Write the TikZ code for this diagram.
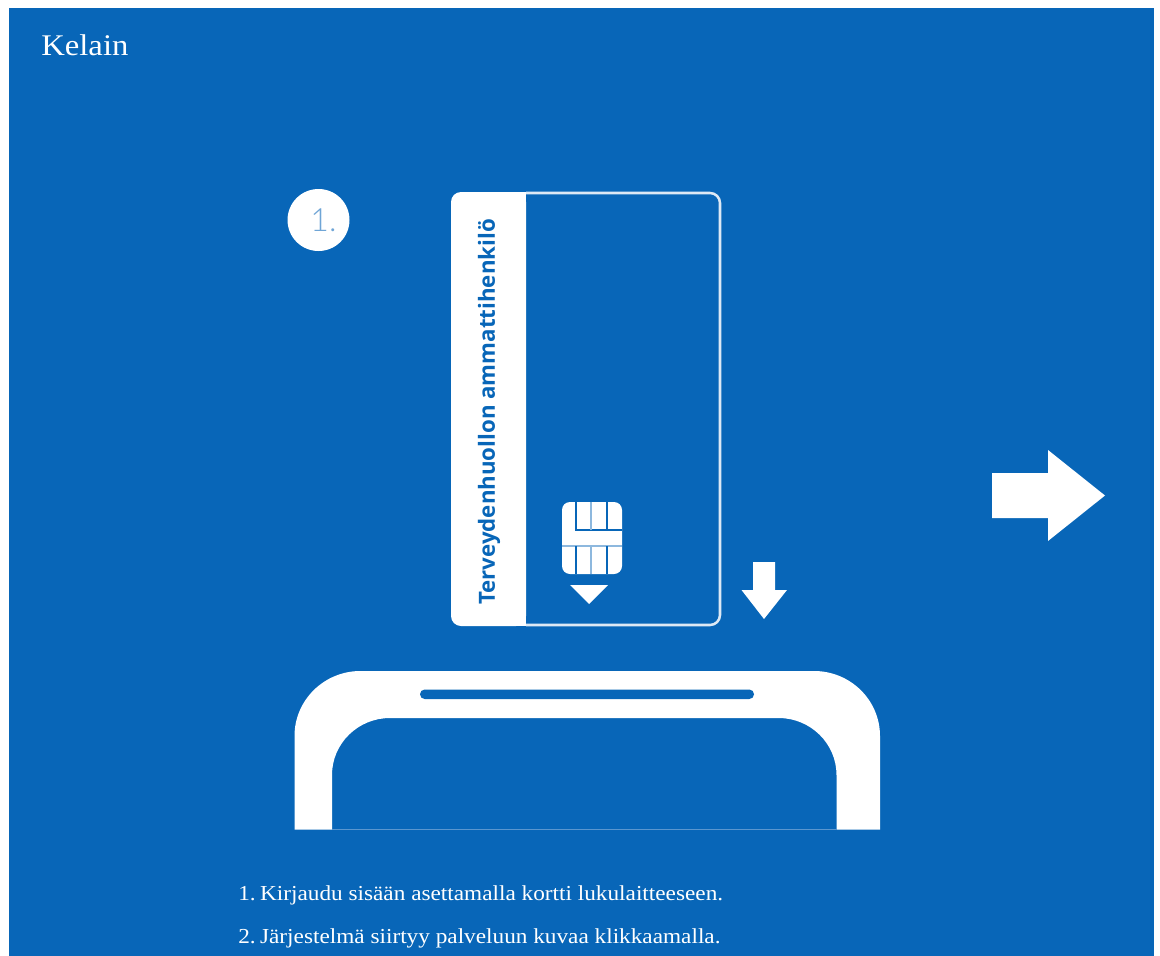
\documentclass[tikz,border=0pt]{standalone}
\usepackage{fontspec}
\setmainfont{Liberation Serif}[FakeStretch=1.09]
\newfontfamily\cardfont{Open Sans}
\newfontfamily\numfont{Lato Light}
\definecolor{kblue}{HTML}{0866B8}
\definecolor{kline}{HTML}{DDE9F5}
\definecolor{kfaint}{HTML}{8DB8DE}
\definecolor{kbase}{HTML}{5A96CF}
\definecolor{knum}{HTML}{6FA5D6}
\tikzset{
  x=0.75pt,y=-0.75pt,
  whiteshape/.style={fill=white,draw=none},
  blueshape/.style={fill=kblue,draw=none},
  caption/.style={text=white,inner sep=0pt,anchor=base west,font=\fontsize{16}{18}\selectfont},
  chipline/.style={kblue,line width=0.9pt},
  chipfaint/.style={kfaint,line width=0.9pt}
}
\begin{document}
\begin{tikzpicture}
\useasboundingbox (0,0) rectangle (1160,956);
\fill[white] (0,0) rectangle (1160,956);
\fill[kblue] (9,8) rectangle (1154,956);
\node[caption,font=\fontsize{22.5}{24}\selectfont] (title) at (41,56) {Kelain};
% step badge
\node[circle,fill=white,minimum size=46.5pt,inner sep=0pt,text=knum,font=\numfont\fontsize{24}{26}\selectfont] (badge) at (318.5,220) {\kern7.5pt 1.};
% card
\fill[white,rounded corners=7.5pt] (451,192) -- (526,192) -- (526,626) -- (451,626) -- cycle;
\fill[white] (500,192) rectangle (526,626);
\draw[kline,line width=1.9pt,rounded corners=7.5pt] (526,193) -- (720,193) -- (720,625) -- (526,625);
\node[rotate=90,text=kblue,inner sep=0pt,font=\cardfont\bfseries\fontsize{16.7}{18}\selectfont] (cardtext) at (489,412) {Terveydenhuollon ammattihenkilö};
% chip
\fill[whiteshape,rounded corners=6pt] (562,502) rectangle (622,574);
\draw[chipline] (576,502) -- (576,530) -- (622,530);
\draw[chipfaint] (591,502) -- (591,530);
\draw[chipline] (607,502) -- (607,530);
\draw[chipfaint] (562,546) -- (622,546);
\draw[chipline] (576,546) -- (576,574);
\draw[chipfaint] (591,546) -- (591,574);
\draw[chipline] (607,546) -- (607,574);
\fill[whiteshape] (570,585) -- (608,585) -- (589,604) -- cycle;
% small arrow
\fill[whiteshape] (753,562) -- (775,562) -- (775,590) -- (787,590) -- (764,619) -- (741.5,590) -- (753,590) -- cycle;
% big arrow
\fill[whiteshape] (992,473) -- (1048,473) -- (1048,450) -- (1105,495.5) -- (1048,541) -- (1048,518) -- (992,518) -- cycle;
% reader
\fill[whiteshape] (294.5,829.5) -- (294.5,736) arc[start angle=180,end angle=270,x radius=66,y radius=65] -- (814,671) arc[start angle=270,end angle=360,x radius=66,y radius=65] -- (880,829.5) -- (836.5,829.5) -- (836.5,775) arc[start angle=0,end angle=-90,x radius=58,y radius=57] -- (390,718) arc[start angle=270,end angle=180,x radius=58,y radius=57] -- (332,829.5) -- cycle;
\draw[kbase,line width=0.7pt] (332,829) -- (836.5,829);
\fill[blueshape,rounded corners=3.5pt] (420,689.5) rectangle (754,699);
% captions
\node[caption] (capa) at (238,900) {1.\kern-2.5pt{} Kirjaudu sisään asettamalla kortti lukulaitteeseen.};
\node[caption] (capb) at (238,943) {2.\kern-2.5pt{} Järjestelmä siirtyy palveluun kuvaa klikkaamalla.};
\end{tikzpicture}
\end{document}
